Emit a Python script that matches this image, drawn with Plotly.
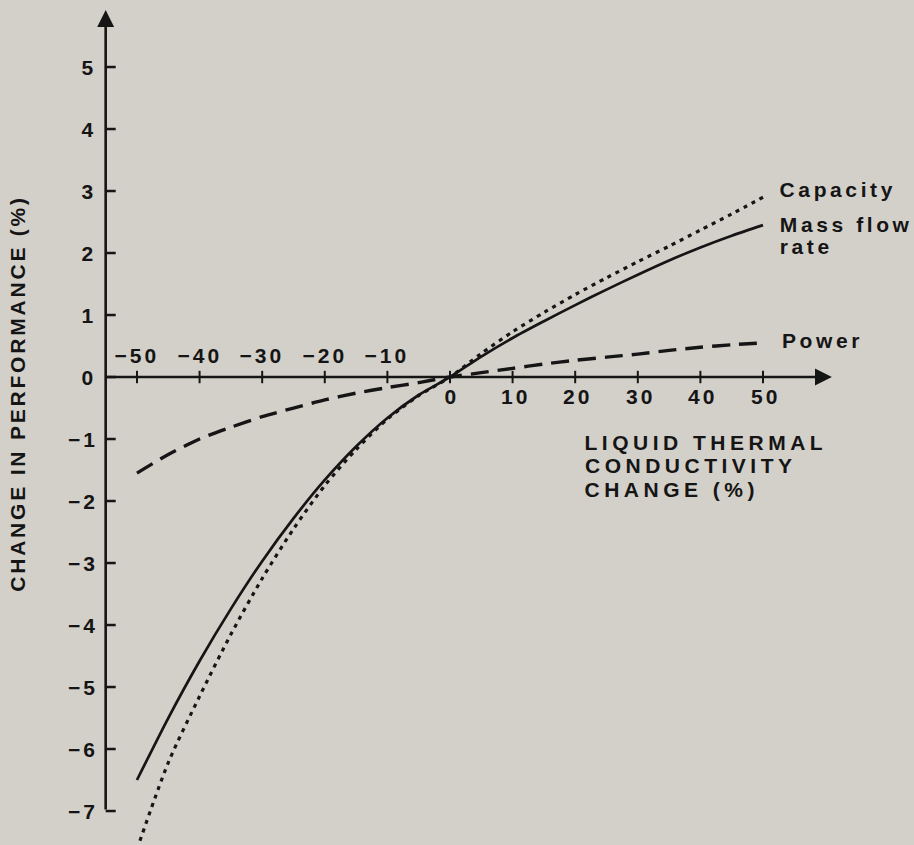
import plotly.graph_objects as go

# Percentage change in liquid thermal conductivity
x_pts = [-50, -45, -40, -35, -30, -25, -20, -15, -10, -5, 0, 5, 10, 15, 20, 25, 30, 35, 40, 45, 50]

capacity = [-7.62, -6.22, -5.15, -4.15, -3.25, -2.45, -1.75, -1.17, -0.68, -0.3, 0.0,
            0.38, 0.73, 1.04, 1.33, 1.6, 1.86, 2.11, 2.37, 2.63, 2.9]
mass_flow = [-6.5, -5.5, -4.58, -3.74, -2.97, -2.28, -1.66, -1.12, -0.66, -0.29, 0.0,
             0.33, 0.63, 0.9, 1.16, 1.41, 1.65, 1.88, 2.09, 2.28, 2.45]
power = [-1.55, -1.25, -1.0, -0.81, -0.64, -0.5, -0.37, -0.26, -0.17, -0.09, 0.0,
         0.07, 0.14, 0.21, 0.27, 0.32, 0.37, 0.43, 0.48, 0.52, 0.55]

x_ticks_neg = [-50, -40, -30, -20, -10]
x_ticks_pos = [0, 10, 20, 30, 40, 50]
y_ticks = [5, 4, 3, 2, 1, 0, -1, -2, -3, -4, -5, -6, -7]

INK = "#151515"
BG = "#d3d0ca"
FONT = "Liberation Sans"
SIZE = 21

# letter tracking (px) applied to the lettering after drawing
TRACK_DIGITS = 3.0
TRACK_CAPS = 4.5      # upper-case axis caption
TRACK_MIXED = 3.6     # curve names
TRACK_TITLE = 2.8     # vertical axis title

X_AXIS_POS = -55      # x value where the vertical axis stands
X_END = 61            # tip of the horizontal arrow
Y_TOP = 5.92          # tip of the vertical arrow
Y_BOTTOM = -7


def num_label(v):
    return str(v) if v >= 0 else "\u2212" + str(abs(v))


fig = go.Figure()

fig.add_trace(go.Scatter(x=x_pts, y=capacity, mode="lines", name="Capacity",
                         line=dict(color=INK, width=3.2, dash="4px,5px", shape="spline",
                                   smoothing=0.8)))
fig.add_trace(go.Scatter(x=x_pts, y=mass_flow, mode="lines", name="Mass flow rate",
                         line=dict(color=INK, width=2.7, shape="spline", smoothing=0.8)))
fig.add_trace(go.Scatter(x=x_pts, y=power, mode="lines", name="Power",
                         line=dict(color=INK, width=3.4, dash="18px,9px", shape="spline",
                                   smoothing=0.8)))

shapes = []
# tick marks on the horizontal axis
for t in x_ticks_neg + x_ticks_pos:
    shapes.append(dict(type="line", xref="x", yref="y", x0=t, x1=t, y0=-0.1, y1=0.1,
                       line=dict(color=INK, width=2)))
# tick marks on the vertical axis
for t in y_ticks:
    shapes.append(dict(type="line", xref="x", yref="y", x0=X_AXIS_POS, x1=X_AXIS_POS + 1.6,
                       y0=t, y1=t, line=dict(color=INK, width=2.5)))

annotations = []
# axis lines with arrowheads
annotations.append(dict(x=X_END, y=0, ax=X_AXIS_POS, ay=0, xref="x", yref="y",
                        axref="x", ayref="y", text="", showarrow=True,
                        arrowhead=2, arrowsize=1.3, arrowwidth=2.6, arrowcolor=INK))
annotations.append(dict(x=X_AXIS_POS, y=Y_TOP, ax=X_AXIS_POS, ay=Y_BOTTOM, xref="x", yref="y",
                        axref="x", ayref="y", text="", showarrow=True,
                        arrowhead=2, arrowsize=1.3, arrowwidth=2.6, arrowcolor=INK))

font = dict(family=FONT, size=SIZE, color=INK, weight="bold")
for t in x_ticks_neg:
    annotations.append(dict(x=t, y=0, xref="x", yref="y", text=num_label(t),
                            showarrow=False, yanchor="bottom", yshift=8, xshift=0,
                            font=font))
for t in x_ticks_pos:
    annotations.append(dict(x=t, y=0, xref="x", yref="y", text=num_label(t),
                            showarrow=False, yanchor="top", yshift=-6, xshift=2.5,
                            font=font))
for t in y_ticks:
    annotations.append(dict(x=X_AXIS_POS, y=t, xref="x", yref="y", text=num_label(t),
                            showarrow=False, xanchor="right", xshift=-9,
                            font=font))


def left_label(text, x, y):
    # single-line text stays centred in its box, so push it right by half the added tracking
    track = TRACK_CAPS if text.upper() == text else TRACK_MIXED
    return dict(x=x, y=y, xref="x", yref="y", text=text, showarrow=False,
                xanchor="left", xshift=len(text) * track / 2, font=font)


annotations.append(left_label("Capacity", 52.3, 3.02))
annotations.append(left_label("Mass flow", 52.3, 2.46))
annotations.append(left_label("rate", 52.3, 2.11))
annotations.append(left_label("Power", 52.7, 0.59))

annotations.append(left_label("LIQUID THERMAL", 21.2, -1.06))
annotations.append(left_label("CONDUCTIVITY", 21.2, -1.43))
annotations.append(left_label("CHANGE (%)", 21.2, -1.81))

annotations.append(dict(x=-69, y=-0.27, xref="x", yref="y",
                        text="CHANGE IN PERFORMANCE (%)", textangle=-90,
                        showarrow=False, font=font))

fig.update_layout(
    width=914, height=845,
    margin=dict(l=0, r=0, t=0, b=0),
    paper_bgcolor=BG, plot_bgcolor=BG,
    showlegend=False,
    xaxis=dict(range=[-71.88, 74.12], visible=False, fixedrange=True),
    yaxis=dict(range=[-7.548, 6.081], visible=False, fixedrange=True),
    shapes=shapes,
    annotations=annotations,
    font=dict(family=FONT, color=INK),
)

spacing_js = """
document.querySelectorAll('.annotation-text').forEach(function (t) {
  var s = t.textContent;
  var ls = '%spx';
  if (s.indexOf('PERFORMANCE') >= 0) { ls = '%spx'; }
  else if (/[a-z]/.test(s)) { ls = '%spx'; }
  else if (/[A-Z]/.test(s)) { ls = '%spx'; }
  t.style.letterSpacing = ls;
});
""" % (TRACK_DIGITS, TRACK_TITLE, TRACK_MIXED, TRACK_CAPS)

fig.write_html("out.html", post_script=spacing_js)
